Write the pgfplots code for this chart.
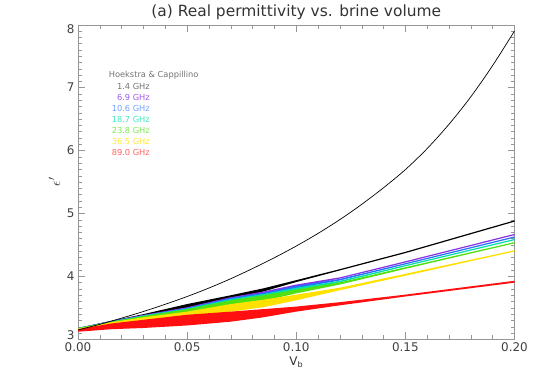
\documentclass[border=0pt]{standalone}
\usepackage{fontspec}
\setmainfont{DejaVu Sans}
\usepackage{pgfplots}
\usepackage{pgfplotstable}
\usepgfplotslibrary{fillbetween}
\pgfplotsset{compat=1.18}

\definecolor{f14}{RGB}{0,0,0}
\definecolor{f69}{RGB}{135,50,230}
\definecolor{f106}{RGB}{40,110,255}
\definecolor{f187}{RGB}{0,225,170}
\definecolor{f238}{RGB}{80,225,20}
\definecolor{f365}{RGB}{255,225,0}
\definecolor{f890}{RGB}{255,15,15}
\definecolor{axgray}{RGB}{150,150,150}

% Hoekstra & Cappillino curve
\pgfplotstableread{
x     y
0.00  3.149
0.01  3.238
0.02  3.337
0.03  3.442
0.04  3.557
0.05  3.680
0.06  3.815
0.07  3.963
0.08  4.125
0.09  4.297
0.10  4.482
0.11  4.683
0.12  4.903
0.13  5.145
0.14  5.409
0.15  5.697
0.16  6.032
0.17  6.418
0.18  6.855
0.19  7.352
0.20  7.900
}\hoek

% lower / upper edge of each frequency cloud
\pgfplotstableread{
x      klo  khi  plo  phi  blo  bhi  clo  chi  glo  ghi  ylo  yhi  rlo  rhi
0.000  3.15 3.18 3.14 3.18 3.14 3.18 3.14 3.18 3.14 3.18 3.13 3.17 3.12 3.16
0.015  3.25 3.29 3.24 3.29 3.24 3.29 3.23 3.28 3.22 3.28 3.20 3.27 3.16 3.25
0.030  3.34 3.40 3.32 3.39 3.31 3.38 3.30 3.38 3.29 3.37 3.25 3.35 3.18 3.31
0.050  3.49 3.56 3.46 3.51 3.44 3.50 3.42 3.49 3.40 3.48 3.35 3.44 3.22 3.39
0.070  3.63 3.70 3.60 3.67 3.58 3.66 3.55 3.64 3.52 3.62 3.44 3.56 3.28 3.44
0.085  3.76 3.81 3.71 3.76 3.69 3.74 3.65 3.72 3.61 3.70 3.51 3.63 3.35 3.48
0.100  3.91 3.94 3.83 3.87 3.81 3.85 3.77 3.82 3.73 3.79 3.62 3.71 3.44 3.52
0.120  4.095 4.115 3.965 3.985 3.935 3.96 3.905 3.93 3.87 3.905 3.78 3.82 3.54 3.59
0.150  4.37 4.39 4.22 4.24 4.19 4.21 4.16 4.18 4.12 4.145 4.01 4.04 3.68 3.71
0.200  4.87 4.89 4.655 4.675 4.615 4.635 4.575 4.595 4.525 4.545 4.395 4.415 3.90 3.93
}\bands

\begin{document}
\begin{tikzpicture}
\begin{axis}[
    scale only axis,
    width=436.5bp, height=314.6bp,
    xmin=0, xmax=0.2, ymin=3, ymax=8,
    xtick={0,0.05,0.1,0.15,0.2},
    ytick={3,4,5,6,7,8},
    yticklabels={\raisebox{0pt}[0pt][0pt]{3},4,5,6,7,\raisebox{-8.6bp}[0pt][0pt]{8}},
    minor x tick num=4,
    minor y tick num=9,
    major tick length=7bp,
    minor tick length=4bp,
    axis line style={axgray},
    every tick/.style={axgray},
    tick label style={font=\fontsize{12}{14}\selectfont, text=black!75},
    /pgf/number format/assume math mode=true,
    xticklabel style={/pgf/number format/.cd, fixed, fixed zerofill, precision=2},
    title={(a) Real permittivity vs. brine volume},
    title style={font=\fontsize{15.5}{18}\selectfont, text=black!80, yshift=-5bp},
    xlabel={V\textsubscript{b}},
    ylabel={$\epsilon'$},
    label style={font=\fontsize{12}{14}\selectfont, text=black!80},
    xlabel style={yshift=2bp},
    ylabel style={font=\fontsize{15}{17}\selectfont, yshift=0bp},
    clip=true,
]
\addplot[draw=none, name path=klo] table[x=x,y=klo]{\bands};
\addplot[draw=none, name path=khi] table[x=x,y=khi]{\bands};
\addplot[f14] fill between[of=klo and khi];

\addplot[draw=none, name path=plo] table[x=x,y=plo]{\bands};
\addplot[draw=none, name path=phi] table[x=x,y=phi]{\bands};
\addplot[f69] fill between[of=plo and phi];

\addplot[draw=none, name path=blo] table[x=x,y=blo]{\bands};
\addplot[draw=none, name path=bhi] table[x=x,y=bhi]{\bands};
\addplot[f106] fill between[of=blo and bhi];

\addplot[draw=none, name path=clo] table[x=x,y=clo]{\bands};
\addplot[draw=none, name path=chi] table[x=x,y=chi]{\bands};
\addplot[f187] fill between[of=clo and chi];

\addplot[draw=none, name path=glo] table[x=x,y=glo]{\bands};
\addplot[draw=none, name path=ghi] table[x=x,y=ghi]{\bands};
\addplot[f238] fill between[of=glo and ghi];

\addplot[draw=none, name path=ylo] table[x=x,y=ylo]{\bands};
\addplot[draw=none, name path=yhi] table[x=x,y=yhi]{\bands};
\addplot[f365] fill between[of=ylo and yhi];

\addplot[draw=none, name path=rlo] table[x=x,y=rlo]{\bands};
\addplot[draw=none, name path=rhi] table[x=x,y=rhi]{\bands};
\addplot[f890] fill between[of=rlo and rhi];

\addplot[black, line width=0.7pt, smooth] table[x=x,y=y]{\hoek};

% key
\begin{scope}[font=\fontsize{8.3}{10}\selectfont]
\node[anchor=west, text=black!55] at (axis cs:0.0125,7.20) {Hoekstra \& Cappillino};
\node[anchor=east, text=black!55] at (axis cs:0.0345,7.025) {1.4 GHz};
\node[anchor=east, text=f69!80] at (axis cs:0.0345,6.85) {6.9 GHz};
\node[anchor=east, text=f106!65] at (axis cs:0.0345,6.675) {10.6 GHz};
\node[anchor=east, text=f187!75] at (axis cs:0.0345,6.50) {18.7 GHz};
\node[anchor=east, text=f238!75] at (axis cs:0.0345,6.325) {23.8 GHz};
\node[anchor=east, text=f365!80] at (axis cs:0.0345,6.15) {36.5 GHz};
\node[anchor=east, text=f890!65] at (axis cs:0.0345,5.975) {89.0 GHz};
\end{scope}
\end{axis}
\pgfresetboundingbox
\path ([xshift=-78bp,yshift=-49.7bp]current axis.south west) rectangle ++(538bp,389bp);
\end{tikzpicture}
\end{document}
